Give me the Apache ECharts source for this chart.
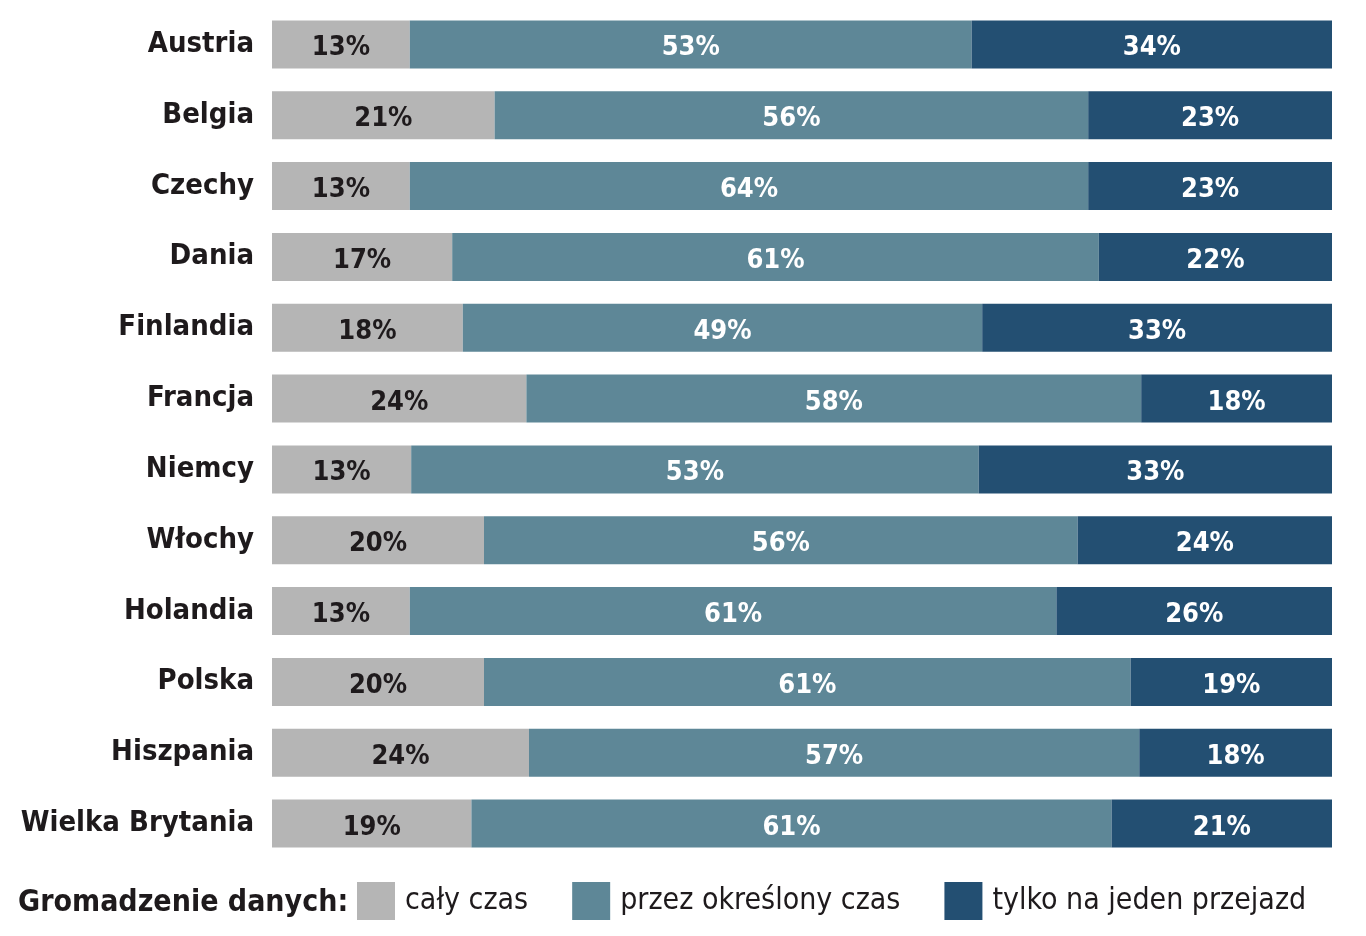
<!DOCTYPE html>
<html>
<head>
<meta charset="utf-8">
<script src="https://cdn.jsdelivr.net/npm/echarts@6/dist/echarts.min.js"></script>
<style>
  html, body { margin: 0; padding: 0; background: #fff; }
  #chart { width: 1366px; height: 936px; }
</style>
</head>
<body>
<div id="chart"></div>
<script>
var countries = ['Austria', 'Belgia', 'Czechy', 'Dania', 'Finlandia', 'Francja', 'Niemcy', 'Włochy', 'Holandia', 'Polska', 'Hiszpania', 'Wielka Brytania'];
var calyCzas = [13, 21, 13, 17, 18, 24, 13, 20, 13, 20, 24, 19];
var okreslonyCzas = [53, 56, 64, 61, 49, 58, 53, 56, 61, 61, 57, 61];
var jedenPrzejazd = [34, 23, 23, 22, 33, 18, 33, 24, 26, 19, 18, 21];
var seriesNames = ['cały czas', 'przez określony czas', 'tylko na jeden przejazd'];
var colors = ['#b5b5b5', '#5e8797', '#234f72'];

var chart = document.getElementById('chart');
var myChart = echarts.init(chart);

// bars fill the full width, label shows the printed value
function rowData(vals) {
    return vals.map(function (v, i) {
        var sum = calyCzas[i] + okreslonyCzas[i] + jedenPrzejazd[i];
        return { value: v * 100 / sum, pct: v };
    });
}

var allVals = [calyCzas, okreslonyCzas, jedenPrzejazd];
var series = allVals.map(function (vals, k) {
    return {
        name: seriesNames[k],
        type: 'bar',
        stack: 'all',
        barWidth: 48,
        itemStyle: { color: colors[k] },
        label: {
            show: true,
            position: 'inside',
            offset: [0, 4],
            formatter: function (p) { return p.data.pct + '%'; },
            color: k === 0 ? '#1e1a1c' : '#ffffff',
            fontFamily: 'DejaVu Sans Condensed',
            fontWeight: 'bold',
            fontSize: 27
        },
        emphasis: { disabled: true },
        data: rowData(vals)
    };
});

option = {
    animation: false,
    title: {
        text: 'Gromadzenie danych:',
        left: 18,
        top: 888,
        padding: 0,
        textStyle: {
            fontFamily: 'DejaVu Sans Condensed',
            fontWeight: 'bold',
            fontSize: 30,
            color: '#1e1a1c'
        }
    },
    legend: {
        left: 357,
        top: 882,
        padding: 0,
        itemWidth: 38,
        itemHeight: 38,
        itemGap: 44,
        icon: 'rect',
        data: seriesNames,
        selectedMode: false,
        textStyle: {
            fontFamily: 'DejaVu Sans Condensed',
            fontSize: 30,
            color: '#1e1a1c',
            padding: [3, 0, 0, 5]
        }
    },
    grid: {
        left: 272,
        right: 34,
        top: 9,
        bottom: 77,
        outerBoundsMode: 'none'
    },
    xAxis: {
        type: 'value',
        min: 0,
        max: 100,
        show: false
    },
    yAxis: {
        type: 'category',
        inverse: true,
        data: countries,
        axisLine: { show: false },
        axisTick: { show: false },
        axisLabel: {
            margin: 18,
            fontFamily: 'DejaVu Sans Condensed',
            fontWeight: 'bold',
            fontSize: 29,
            color: '#1e1a1c'
        }
    },
    series: series
};

myChart.setOption(option);
</script>
</body>
</html>
